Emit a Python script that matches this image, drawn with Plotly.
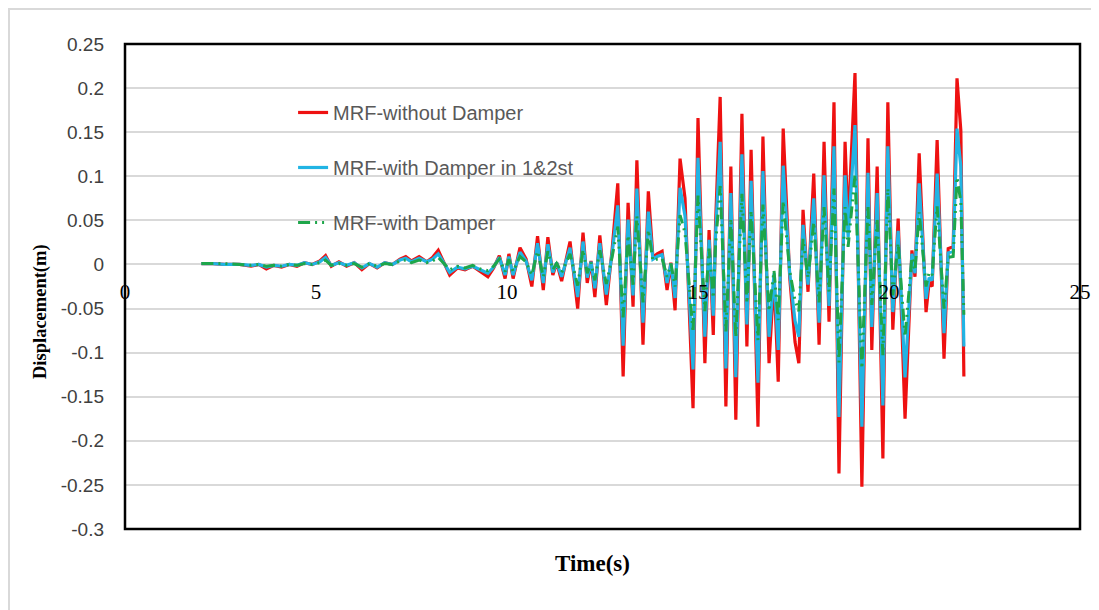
import plotly.graph_objects as go

# ---- data ----
time_s = [2.0, 2.3, 2.6, 3.0, 3.3, 3.5, 3.7, 3.9, 4.1, 4.3, 4.5, 4.7, 4.9, 5.1, 5.25, 5.4, 5.6, 5.8,
          6.0, 6.2, 6.4, 6.6, 6.8, 7.0, 7.2, 7.35, 7.5, 7.7, 7.9, 8.05, 8.2, 8.35, 8.5, 8.7, 8.9, 9.1,
          9.3, 9.5, 9.65, 9.8, 9.95, 10.05,
          10.16, 10.34, 10.5, 10.65, 10.8, 10.95, 11.07, 11.2, 11.3, 11.43, 11.55, 11.65, 11.85, 11.99,
          12.1, 12.2, 12.3, 12.43, 12.6, 12.75, 12.9, 13.04, 13.17, 13.3, 13.4, 13.56, 13.7, 13.82,
          13.93, 14.06, 14.19, 14.29, 14.4, 14.53, 14.66, 14.87, 15.0, 15.18, 15.29, 15.4, 15.46, 15.58,
          15.73, 15.86, 15.99, 16.15, 16.28, 16.39, 16.57, 16.7, 16.86, 16.99, 17.1, 17.23, 17.4, 17.54,
          17.64, 17.75, 17.88, 18.03, 18.17, 18.3, 18.43, 18.56, 18.69, 18.85, 18.93, 19.11, 19.29, 19.45,
          19.55, 19.69, 19.84, 19.97, 20.1, 20.24, 20.42, 20.6, 20.68, 20.79, 20.97, 21.05, 21.13, 21.26,
          21.44, 21.55, 21.68, 21.78, 21.88, 21.96]

mrf_without_damper = [0.001, 0.001, 0.0, 0.0, -0.002, 0.0, -0.005, -0.001, -0.003, 0.0, -0.002, 0.002,
                      0.0, 0.004, 0.01, -0.002, 0.003, -0.002, 0.002, -0.006, 0.001, -0.004, 0.002, 0.0,
                      0.006, 0.009, 0.004, 0.009, 0.003, 0.008, 0.016, 0.002, -0.012, -0.004, -0.006,
                      -0.002, -0.008, -0.014, -0.004, 0.01, -0.016, 0.012,
                      -0.016, 0.019, 0.006, -0.025, 0.032, -0.029, 0.031, -0.012, 0.002, -0.019, 0.006,
                      0.026, -0.05, 0.036, -0.021, 0.004, -0.037, 0.033, -0.046, 0.016, 0.092, -0.127,
                      0.07, -0.048, 0.118, -0.091, 0.083, 0.008, 0.012, 0.015, -0.029, 0.002, -0.052,
                      0.12, 0.075, -0.163, 0.166, -0.112, 0.039, -0.08, 0.046, 0.19, -0.161, 0.111,
                      -0.176, 0.171, -0.093, 0.13, -0.184, 0.145, -0.112, -0.014, -0.133, 0.154, -0.014,
                      -0.088, -0.112, 0.062, -0.031, 0.103, -0.091, 0.139, -0.065, 0.184, -0.237, 0.139,
                      0.043, 0.217, -0.252, 0.143, -0.097, 0.111, -0.22, 0.184, -0.074, 0.052, -0.175,
                      0.016, -0.014, 0.126, -0.054, -0.02, -0.025, 0.141, -0.107, 0.018, 0.02, 0.211,
                      0.152, -0.127]

mrf_damper_1_2 = [0.001, 0.001, 0.0, 0.0, -0.001, 0.0, -0.003, -0.001, -0.002, 0.0, -0.001, 0.002,
                  0.0, 0.003, 0.008, -0.001, 0.002, -0.001, 0.002, -0.004, 0.001, -0.003, 0.002, 0.0,
                  0.005, 0.007, 0.003, 0.007, 0.003, 0.006, 0.012, 0.002, -0.009, -0.003, -0.005,
                  -0.002, -0.006, -0.01, -0.003, 0.008, -0.012, 0.009,
                  -0.012, 0.014, 0.004, -0.018, 0.024, -0.021, 0.023, -0.009, 0.002, -0.014, 0.004,
                  0.019, -0.037, 0.026, -0.015, 0.003, -0.027, 0.024, -0.034, 0.012, 0.067, -0.092,
                  0.051, -0.035, 0.086, -0.066, 0.06, 0.006, 0.009, 0.011, -0.021, 0.001, -0.038,
                  0.087, 0.055, -0.119, 0.121, -0.082, 0.028, -0.058, 0.034, 0.139, -0.118, 0.081,
                  -0.128, 0.125, -0.068, 0.095, -0.134, 0.106, -0.082, -0.01, -0.097, 0.112, -0.01,
                  -0.064, -0.082, 0.045, -0.023, 0.075, -0.066, 0.101, -0.047, 0.134, -0.173, 0.101,
                  0.031, 0.158, -0.184, 0.104, -0.071, 0.081, -0.16, 0.134, -0.054, 0.038, -0.128,
                  0.012, -0.01, 0.092, -0.039, -0.015, -0.018, 0.103, -0.078, 0.013, 0.015, 0.154,
                  0.111, -0.093]

mrf_with_damper = [0.001, 0.001, 0.001, 0.0, -0.001, 0.0, -0.002, -0.001, -0.002, 0.0, -0.001, 0.001,
                   0.0, 0.002, 0.005, -0.001, 0.001, -0.001, 0.001, -0.003, 0.001, -0.002, 0.001, 0.0,
                   0.004, 0.005, 0.002, 0.005, 0.002, 0.004, 0.008, 0.001, -0.006, -0.002, -0.004,
                   -0.001, -0.005, -0.007, -0.002, 0.006, -0.008, 0.006,
                   -0.008, 0.009, 0.003, -0.012, 0.015, -0.014, 0.015, -0.006, 0.001, -0.009, 0.003,
                   0.012, -0.024, 0.017, -0.01, 0.002, -0.018, 0.016, -0.022, 0.008, 0.043, -0.06,
                   0.033, -0.023, 0.055, -0.043, 0.039, 0.004, 0.006, 0.007, -0.014, 0.001, -0.025,
                   0.056, 0.036, -0.077, 0.078, -0.053, 0.018, -0.038, 0.022, 0.089, -0.076, 0.052,
                   -0.083, 0.08, -0.044, 0.061, -0.086, 0.068, -0.053, -0.007, -0.063, 0.072, -0.007,
                   -0.041, -0.053, 0.029, -0.015, 0.048, -0.043, 0.065, -0.031, 0.086, -0.111, 0.065,
                   0.02, 0.102, -0.118, 0.067, -0.046, 0.052, -0.103, 0.086, -0.035, 0.024, -0.082,
                   0.008, -0.007, 0.059, -0.025, -0.009, -0.012, 0.066, -0.05, 0.008, 0.009, 0.099,
                   0.071, -0.057]

series_names = ["MRF-without Damper", "MRF-with Damper in 1&2st", "MRF-with Damper"]
series_colors = ["#ee1111", "#21b4e4", "#1ea64a"]

x_tick_vals = [0, 5, 10, 15, 20, 25]
x_tick_text = ["0", "5", "10", "15", "20", "25"]
y_tick_vals = [0.25, 0.2, 0.15, 0.1, 0.05, 0, -0.05, -0.1, -0.15, -0.2, -0.25, -0.3]
y_tick_text = ["0.25", "0.2", "0.15", "0.1", "0.05", "0", "-0.05", "-0.1", "-0.15", "-0.2", "-0.25", "-0.3"]

assert len(time_s) == len(mrf_without_damper) == len(mrf_damper_1_2) == len(mrf_with_damper)

# ---- layout geometry (page has an 8px body margin) ----
W, H = 1091, 602
L, R, T, B = 117, 19, 36, 81
y_range = [-0.3, 0.25]
zero_pos = (0 - y_range[0]) / (y_range[1] - y_range[0])
pw = W - L - R
ph = H - T - B

fig = go.Figure()
fig.add_trace(go.Scatter(x=time_s, y=mrf_without_damper, mode="lines", name=series_names[0],
                         line=dict(color=series_colors[0], width=3.2), legendgroup="a"))
fig.add_trace(go.Scatter(x=time_s, y=mrf_damper_1_2, mode="lines", name=series_names[1],
                         line=dict(color=series_colors[1], width=3.2), legendgroup="b"))
fig.add_trace(go.Scatter(x=time_s, y=mrf_with_damper, mode="lines", name=series_names[2],
                         line=dict(color=series_colors[2], width=3, dash="12px,5px,2px,5px,2px,5px"),
                         legendgroup="c"))

fig.update_layout(
    width=W, height=H,
    margin=dict(l=L, r=R, t=T, b=B, autoexpand=False),
    paper_bgcolor="white", plot_bgcolor="white",
    showlegend=True,
    legend=dict(x=0.176, y=0.899, xanchor="left", yanchor="top",
                bgcolor="rgba(0,0,0,0)", tracegroupgap=26,
                font=dict(family="Liberation Sans, Arial, sans-serif", size=20, color="#595959")),
    xaxis=dict(range=[0, 25], tickvals=x_tick_vals, ticktext=x_tick_text,
               showgrid=False, zeroline=False, showline=False, ticks="",
               anchor="free", position=zero_pos, ticklabelstandoff=13,
               tickfont=dict(family="Liberation Serif, Times New Roman, serif", size=21, color="#000000")),
    yaxis=dict(range=y_range, tickvals=y_tick_vals, ticktext=y_tick_text,
               showgrid=True, gridcolor="#d9d9d9", gridwidth=1.5, zeroline=False, showline=False,
               ticks="", ticklabelstandoff=20,
               tickfont=dict(family="Liberation Sans, Arial, sans-serif", size=19, color="#404040")),
    shapes=[
        dict(type="rect", xref="paper", yref="paper", x0=0, x1=1, y0=0, y1=1,
             line=dict(color="#000000", width=2.5), layer="above"),
        dict(type="rect", xref="paper", yref="paper",
             x0=(1 - L) / pw, x1=(W + 20 - L) / pw, y0=-(B + 20) / ph, y1=(H - B - 1) / ph,
             line=dict(color="#d9d9d9", width=2), layer="below"),
    ],
    annotations=[
        dict(text="<b>Time(s)</b>", xref="paper", yref="paper", x=0.49, y=-(555 - (H - B)) / ph,
             showarrow=False, xanchor="center", yanchor="middle",
             font=dict(family="Liberation Serif, Times New Roman, serif", size=23, color="#000000")),
        dict(text="<b>Displacement(m)</b>", xref="paper", yref="paper", x=-(L - 32) / pw,
             y=(H - B - 304) / ph, showarrow=False, textangle=-90, xanchor="center", yanchor="middle",
             font=dict(family="Liberation Serif, Times New Roman, serif", size=18.5, color="#000000")),
    ],
)

fig.write_html("out.html")
